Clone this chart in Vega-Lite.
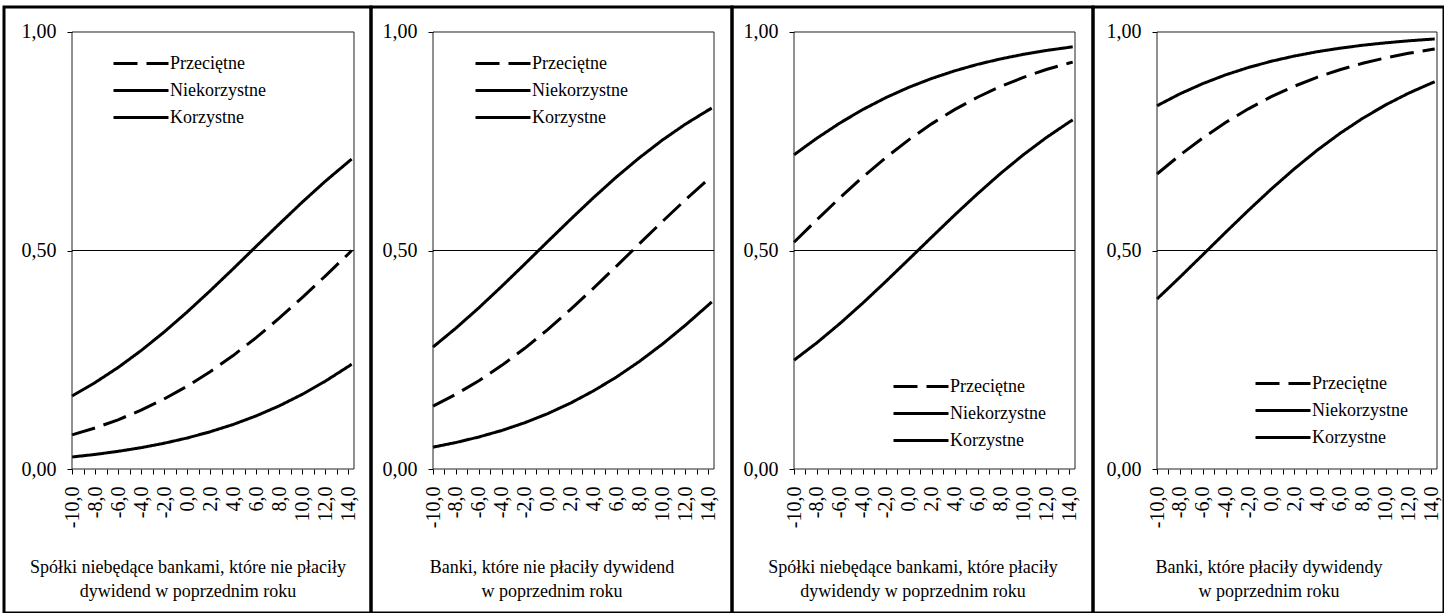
{
"$schema": "https://vega.github.io/schema/vega-lite/v6.json",
"background": "white",
"padding": {"left": 2, "top": 5, "right": 2, "bottom": 2},
"spacing": 0,
"bounds": "flush",
"datasets": {
"curves": [
{"panel":1,"seria":"Niekorzystne","x":-10,"p":0.167},{"panel":1,"seria":"Niekorzystne","x":-8,"p":0.1977},{"panel":1,"seria":"Niekorzystne","x":-6,"p":0.2322},{"panel":1,"seria":"Niekorzystne","x":-4,"p":0.2709},{"panel":1,"seria":"Niekorzystne","x":-2,"p":0.3133},{"panel":1,"seria":"Niekorzystne","x":0,"p":0.3592},{"panel":1,"seria":"Niekorzystne","x":2,"p":0.4078},{"panel":1,"seria":"Niekorzystne","x":4,"p":0.4581},{"panel":1,"seria":"Niekorzystne","x":6,"p":0.5095},{"panel":1,"seria":"Niekorzystne","x":8,"p":0.5605},{"panel":1,"seria":"Niekorzystne","x":10,"p":0.6105},{"panel":1,"seria":"Niekorzystne","x":12,"p":0.6583},{"panel":1,"seria":"Niekorzystne","x":14,"p":0.7027},{"panel":1,"seria":"Niekorzystne","x":14.3,"p":0.7092},
{"panel":1,"seria":"Przeciętne","x":-10,"p":0.078},{"panel":1,"seria":"Przeciętne","x":-8,"p":0.0939},{"panel":1,"seria":"Przeciętne","x":-6,"p":0.1126},{"panel":1,"seria":"Przeciętne","x":-4,"p":0.1347},{"panel":1,"seria":"Przeciętne","x":-2,"p":0.1601},{"panel":1,"seria":"Przeciętne","x":0,"p":0.1894},{"panel":1,"seria":"Przeciętne","x":2,"p":0.2225},{"panel":1,"seria":"Przeciętne","x":4,"p":0.2596},{"panel":1,"seria":"Przeciętne","x":6,"p":0.3007},{"panel":1,"seria":"Przeciętne","x":8,"p":0.345},{"panel":1,"seria":"Przeciętne","x":10,"p":0.3922},{"panel":1,"seria":"Przeciętne","x":12,"p":0.4415},{"panel":1,"seria":"Przeciętne","x":14,"p":0.492},{"panel":1,"seria":"Przeciętne","x":14.3,"p":0.5},
{"panel":1,"seria":"Korzystne","x":-10,"p":0.0275},{"panel":1,"seria":"Korzystne","x":-8,"p":0.0333},{"panel":1,"seria":"Korzystne","x":-6,"p":0.0404},{"panel":1,"seria":"Korzystne","x":-4,"p":0.0488},{"panel":1,"seria":"Korzystne","x":-2,"p":0.0589},{"panel":1,"seria":"Korzystne","x":0,"p":0.0709},{"panel":1,"seria":"Korzystne","x":2,"p":0.0852},{"panel":1,"seria":"Korzystne","x":4,"p":0.1019},{"panel":1,"seria":"Korzystne","x":6,"p":0.1216},{"panel":1,"seria":"Korzystne","x":8,"p":0.1444},{"panel":1,"seria":"Korzystne","x":10,"p":0.1708},{"panel":1,"seria":"Korzystne","x":12,"p":0.2008},{"panel":1,"seria":"Korzystne","x":14,"p":0.2345},{"panel":1,"seria":"Korzystne","x":14.3,"p":0.2399},
{"panel":2,"seria":"Niekorzystne","x":-10,"p":0.2791},{"panel":2,"seria":"Niekorzystne","x":-8,"p":0.3224},{"panel":2,"seria":"Niekorzystne","x":-6,"p":0.3689},{"panel":2,"seria":"Niekorzystne","x":-4,"p":0.4182},{"panel":2,"seria":"Niekorzystne","x":-2,"p":0.469},{"panel":2,"seria":"Niekorzystne","x":0,"p":0.5205},{"panel":2,"seria":"Niekorzystne","x":2,"p":0.5714},{"panel":2,"seria":"Niekorzystne","x":4,"p":0.6211},{"panel":2,"seria":"Niekorzystne","x":6,"p":0.6684},{"panel":2,"seria":"Niekorzystne","x":8,"p":0.7123},{"panel":2,"seria":"Niekorzystne","x":10,"p":0.7527},{"panel":2,"seria":"Niekorzystne","x":12,"p":0.789},{"panel":2,"seria":"Niekorzystne","x":14,"p":0.8213},{"panel":2,"seria":"Niekorzystne","x":14.3,"p":0.8258},
{"panel":2,"seria":"Przeciętne","x":-10,"p":0.1439},{"panel":2,"seria":"Przeciętne","x":-8,"p":0.1711},{"panel":2,"seria":"Przeciętne","x":-6,"p":0.2021},{"panel":2,"seria":"Przeciętne","x":-4,"p":0.2372},{"panel":2,"seria":"Przeciętne","x":-2,"p":0.2762},{"panel":2,"seria":"Przeciętne","x":0,"p":0.3191},{"panel":2,"seria":"Przeciętne","x":2,"p":0.3652},{"panel":2,"seria":"Przeciętne","x":4,"p":0.4139},{"panel":2,"seria":"Przeciętne","x":6,"p":0.4643},{"panel":2,"seria":"Przeciętne","x":8,"p":0.5155},{"panel":2,"seria":"Przeciętne","x":10,"p":0.5664},{"panel":2,"seria":"Przeciętne","x":12,"p":0.6158},{"panel":2,"seria":"Przeciętne","x":14,"p":0.6631},{"panel":2,"seria":"Przeciętne","x":14.3,"p":0.67},
{"panel":2,"seria":"Korzystne","x":-10,"p":0.05},{"panel":2,"seria":"Korzystne","x":-8,"p":0.0606},{"panel":2,"seria":"Korzystne","x":-6,"p":0.0733},{"panel":2,"seria":"Korzystne","x":-4,"p":0.0882},{"panel":2,"seria":"Korzystne","x":-2,"p":0.1059},{"panel":2,"seria":"Korzystne","x":0,"p":0.1267},{"panel":2,"seria":"Korzystne","x":2,"p":0.151},{"panel":2,"seria":"Korzystne","x":4,"p":0.1789},{"panel":2,"seria":"Korzystne","x":6,"p":0.2105},{"panel":2,"seria":"Korzystne","x":8,"p":0.2462},{"panel":2,"seria":"Korzystne","x":10,"p":0.2858},{"panel":2,"seria":"Korzystne","x":12,"p":0.3289},{"panel":2,"seria":"Korzystne","x":14,"p":0.3752},{"panel":2,"seria":"Korzystne","x":14.3,"p":0.3822},
{"panel":3,"seria":"Niekorzystne","x":-10,"p":0.719},{"panel":3,"seria":"Niekorzystne","x":-8,"p":0.7571},{"panel":3,"seria":"Niekorzystne","x":-6,"p":0.7917},{"panel":3,"seria":"Niekorzystne","x":-4,"p":0.8226},{"panel":3,"seria":"Niekorzystne","x":-2,"p":0.8497},{"panel":3,"seria":"Niekorzystne","x":0,"p":0.8733},{"panel":3,"seria":"Niekorzystne","x":2,"p":0.8936},{"panel":3,"seria":"Niekorzystne","x":4,"p":0.911},{"panel":3,"seria":"Niekorzystne","x":6,"p":0.9259},{"panel":3,"seria":"Niekorzystne","x":8,"p":0.9383},{"panel":3,"seria":"Niekorzystne","x":10,"p":0.9489},{"panel":3,"seria":"Niekorzystne","x":12,"p":0.9577},{"panel":3,"seria":"Niekorzystne","x":14,"p":0.965},{"panel":3,"seria":"Niekorzystne","x":14.3,"p":0.966},
{"panel":3,"seria":"Przeciętne","x":-10,"p":0.519},{"panel":3,"seria":"Przeciętne","x":-8,"p":0.5705},{"panel":3,"seria":"Przeciętne","x":-6,"p":0.6206},{"panel":3,"seria":"Przeciętne","x":-4,"p":0.6682},{"panel":3,"seria":"Przeciętne","x":-2,"p":0.7126},{"panel":3,"seria":"Przeciętne","x":0,"p":0.7532},{"panel":3,"seria":"Przeciętne","x":2,"p":0.7898},{"panel":3,"seria":"Przeciętne","x":4,"p":0.8223},{"panel":3,"seria":"Przeciętne","x":6,"p":0.8507},{"panel":3,"seria":"Przeciętne","x":8,"p":0.8752},{"panel":3,"seria":"Przeciętne","x":10,"p":0.8962},{"panel":3,"seria":"Przeciętne","x":12,"p":0.9141},{"panel":3,"seria":"Przeciętne","x":14,"p":0.929},{"panel":3,"seria":"Przeciętne","x":14.3,"p":0.931},
{"panel":3,"seria":"Korzystne","x":-10,"p":0.249},{"panel":3,"seria":"Korzystne","x":-8,"p":0.289},{"panel":3,"seria":"Korzystne","x":-6,"p":0.3329},{"panel":3,"seria":"Korzystne","x":-4,"p":0.3797},{"panel":3,"seria":"Korzystne","x":-2,"p":0.429},{"panel":3,"seria":"Korzystne","x":0,"p":0.4796},{"panel":3,"seria":"Korzystne","x":2,"p":0.5305},{"panel":3,"seria":"Korzystne","x":4,"p":0.581},{"panel":3,"seria":"Korzystne","x":6,"p":0.6297},{"panel":3,"seria":"Korzystne","x":8,"p":0.6761},{"panel":3,"seria":"Korzystne","x":10,"p":0.7191},{"panel":3,"seria":"Korzystne","x":12,"p":0.7584},{"panel":3,"seria":"Korzystne","x":14,"p":0.794},{"panel":3,"seria":"Korzystne","x":14.3,"p":0.7989},
{"panel":4,"seria":"Niekorzystne","x":-10,"p":0.8312},{"panel":4,"seria":"Niekorzystne","x":-8,"p":0.8584},{"panel":4,"seria":"Niekorzystne","x":-6,"p":0.8818},{"panel":4,"seria":"Niekorzystne","x":-4,"p":0.9019},{"panel":4,"seria":"Niekorzystne","x":-2,"p":0.9188},{"panel":4,"seria":"Niekorzystne","x":0,"p":0.933},{"panel":4,"seria":"Niekorzystne","x":2,"p":0.9449},{"panel":4,"seria":"Niekorzystne","x":4,"p":0.9548},{"panel":4,"seria":"Niekorzystne","x":6,"p":0.9629},{"panel":4,"seria":"Niekorzystne","x":8,"p":0.9697},{"panel":4,"seria":"Niekorzystne","x":10,"p":0.9752},{"panel":4,"seria":"Niekorzystne","x":12,"p":0.9798},{"panel":4,"seria":"Niekorzystne","x":14,"p":0.9835},{"panel":4,"seria":"Niekorzystne","x":14.3,"p":0.984},
{"panel":4,"seria":"Przeciętne","x":-10,"p":0.675},{"panel":4,"seria":"Przeciętne","x":-8,"p":0.7181},{"panel":4,"seria":"Przeciętne","x":-6,"p":0.7573},{"panel":4,"seria":"Przeciętne","x":-4,"p":0.7928},{"panel":4,"seria":"Przeciętne","x":-2,"p":0.8242},{"panel":4,"seria":"Przeciętne","x":0,"p":0.8519},{"panel":4,"seria":"Przeciętne","x":2,"p":0.8757},{"panel":4,"seria":"Przeciętne","x":4,"p":0.8962},{"panel":4,"seria":"Przeciętne","x":6,"p":0.9137},{"panel":4,"seria":"Przeciętne","x":8,"p":0.9284},{"panel":4,"seria":"Przeciętne","x":10,"p":0.9408},{"panel":4,"seria":"Przeciętne","x":12,"p":0.9512},{"panel":4,"seria":"Przeciętne","x":14,"p":0.9599},{"panel":4,"seria":"Przeciętne","x":14.3,"p":0.9611},
{"panel":4,"seria":"Korzystne","x":-10,"p":0.389},{"panel":4,"seria":"Korzystne","x":-8,"p":0.4388},{"panel":4,"seria":"Korzystne","x":-6,"p":0.49},{"panel":4,"seria":"Korzystne","x":-4,"p":0.5414},{"panel":4,"seria":"Korzystne","x":-2,"p":0.5919},{"panel":4,"seria":"Korzystne","x":0,"p":0.6406},{"panel":4,"seria":"Korzystne","x":2,"p":0.6865},{"panel":4,"seria":"Korzystne","x":4,"p":0.7291},{"panel":4,"seria":"Korzystne","x":6,"p":0.7678},{"panel":4,"seria":"Korzystne","x":8,"p":0.8025},{"panel":4,"seria":"Korzystne","x":10,"p":0.8331},{"panel":4,"seria":"Korzystne","x":12,"p":0.8598},{"panel":4,"seria":"Korzystne","x":14,"p":0.8829},{"panel":4,"seria":"Korzystne","x":14.3,"p":0.886}
]
},
"hconcat": [
{
"width": 367, "height": 606,
"layer": [
{"data": {"name": "curves"}, "transform": [{"filter": "datum.panel == 1"}],
 "mark": {"type": "line", "stroke": "black", "strokeWidth": 3, "strokeCap": "butt"},
 "encoding": {
  "x": {"field": "x", "type": "quantitative", "scale": {"domain": [-15.908, 15.977], "nice": false, "zero": false}, "axis": {"orient": "bottom", "offset": -144, "values": [-10,-9,-8,-7,-6,-5,-4,-3,-2,-1,0,1,2,3,4,5,6,7,8,9,10,11,12,13,14], "tickCount": 40, "domain": false, "grid": false, "tickSize": 5, "labelAngle": -90, "labelPadding": 12, "labelFontSize": 20, "labelOverlap": false, "labelFlush": false, "labelExpr": "datum.value % 2 == 0 ? replace(replace(format(datum.value, '.1f'), '.', ','), '\u2212', '-') : ''", "title": ["Spółki niebędące bankami, które nie płaciły", "dywidend w poprzednim roku"], "titleY": 89, "titleBaseline": "top", "titleLineHeight": 24}},
  "y": {"field": "p", "type": "quantitative", "scale": {"domain": [-0.3295, 1.0572], "nice": false, "zero": false}, "axis": {"orient": "left", "offset": -68, "values": [0, 0.5, 1], "domain": false, "grid": false, "tickSize": 5, "labelPadding": 11, "labelFontSize": 20, "labelFlush": false, "labelExpr": "replace(format(datum.value, '.2f'), '.', ',')", "title": null}},
  "strokeDash": {"field": "seria", "type": "nominal", "scale": {"domain": ["Przeciętne", "Niekorzystne", "Korzystne"], "range": [[24, 9], [1, 0], [1, 0]]},
   "legend": {"orient": "none", "legendX": 108, "legendY": 44, "title": null, "symbolType": "stroke", "symbolSize": 3025, "symbolStrokeWidth": 3, "symbolStrokeColor": "black", "labelOffset": 0, "clipHeight": 25, "rowPadding": 2}}
 }},
{"data": {"values": [{}]}, "mark": {"type": "rect", "fill": "transparent", "stroke": "#222", "strokeWidth": 1},
 "encoding": {"x": {"datum": -10, "type": "quantitative"}, "x2": {"datum": 14.5}, "y": {"datum": 0, "type": "quantitative"}, "y2": {"datum": 1}}},
{"data": {"values": [{}]}, "mark": {"type": "rule", "stroke": "black", "strokeWidth": 1},
 "encoding": {"x": {"datum": -10, "type": "quantitative"}, "x2": {"datum": 14.5}, "y": {"datum": 0.5, "type": "quantitative"}}}
]
},
{
"width": 361, "height": 606,
"layer": [
{"data": {"name": "curves"}, "transform": [{"filter": "datum.panel == 2"}],
 "mark": {"type": "line", "stroke": "black", "strokeWidth": 3, "strokeCap": "butt"},
 "encoding": {
  "x": {"field": "x", "type": "quantitative", "scale": {"domain": [-15.406, 16.069], "nice": false, "zero": false}, "axis": {"orient": "bottom", "offset": -144, "values": [-10,-9,-8,-7,-6,-5,-4,-3,-2,-1,0,1,2,3,4,5,6,7,8,9,10,11,12,13,14], "tickCount": 40, "domain": false, "grid": false, "tickSize": 5, "labelAngle": -90, "labelPadding": 12, "labelFontSize": 20, "labelOverlap": false, "labelFlush": false, "labelExpr": "datum.value % 2 == 0 ? replace(replace(format(datum.value, '.1f'), '.', ','), '\u2212', '-') : ''", "title": ["Banki, które nie płaciły dywidend", "w poprzednim roku"], "titleY": 89, "titleBaseline": "top", "titleLineHeight": 24}},
  "y": {"field": "p", "type": "quantitative", "scale": {"domain": [-0.3295, 1.0572], "nice": false, "zero": false}, "axis": {"orient": "left", "offset": -62, "values": [0, 0.5, 1], "domain": false, "grid": false, "tickSize": 5, "labelPadding": 11, "labelFontSize": 20, "labelFlush": false, "labelExpr": "replace(format(datum.value, '.2f'), '.', ',')", "title": null}},
  "strokeDash": {"field": "seria", "type": "nominal", "scale": {"domain": ["Przeciętne", "Niekorzystne", "Korzystne"], "range": [[24, 9], [1, 0], [1, 0]]},
   "legend": {"orient": "none", "legendX": 103, "legendY": 44, "title": null, "symbolType": "stroke", "symbolSize": 3025, "symbolStrokeWidth": 3, "symbolStrokeColor": "black", "labelOffset": 0, "clipHeight": 25, "rowPadding": 2}}
 }},
{"data": {"values": [{}]}, "mark": {"type": "rect", "fill": "transparent", "stroke": "#222", "strokeWidth": 1},
 "encoding": {"x": {"datum": -10, "type": "quantitative"}, "x2": {"datum": 14.5}, "y": {"datum": 0, "type": "quantitative"}, "y2": {"datum": 1}}},
{"data": {"values": [{}]}, "mark": {"type": "rule", "stroke": "black", "strokeWidth": 1},
 "encoding": {"x": {"datum": -10, "type": "quantitative"}, "x2": {"datum": 14.5}, "y": {"datum": 0.5, "type": "quantitative"}}}
]
},
{
"width": 361, "height": 606,
"layer": [
{"data": {"name": "curves"}, "transform": [{"filter": "datum.panel == 3"}],
 "mark": {"type": "line", "stroke": "black", "strokeWidth": 3, "strokeCap": "butt"},
 "encoding": {
  "x": {"field": "x", "type": "quantitative", "scale": {"domain": [-15.406, 16.069], "nice": false, "zero": false}, "axis": {"orient": "bottom", "offset": -144, "values": [-10,-9,-8,-7,-6,-5,-4,-3,-2,-1,0,1,2,3,4,5,6,7,8,9,10,11,12,13,14], "tickCount": 40, "domain": false, "grid": false, "tickSize": 5, "labelAngle": -90, "labelPadding": 12, "labelFontSize": 20, "labelOverlap": false, "labelFlush": false, "labelExpr": "datum.value % 2 == 0 ? replace(replace(format(datum.value, '.1f'), '.', ','), '\u2212', '-') : ''", "title": ["Spółki niebędące bankami, które płaciły", "dywidendy w poprzednim roku"], "titleY": 89, "titleBaseline": "top", "titleLineHeight": 24}},
  "y": {"field": "p", "type": "quantitative", "scale": {"domain": [-0.3295, 1.0572], "nice": false, "zero": false}, "axis": {"orient": "left", "offset": -62, "values": [0, 0.5, 1], "domain": false, "grid": false, "tickSize": 5, "labelPadding": 11, "labelFontSize": 20, "labelFlush": false, "labelExpr": "replace(format(datum.value, '.2f'), '.', ',')", "title": null}},
  "strokeDash": {"field": "seria", "type": "nominal", "scale": {"domain": ["Przeciętne", "Niekorzystne", "Korzystne"], "range": [[24, 9], [1, 0], [1, 0]]},
   "legend": {"orient": "none", "legendX": 160, "legendY": 367, "title": null, "symbolType": "stroke", "symbolSize": 3025, "symbolStrokeWidth": 3, "symbolStrokeColor": "black", "labelOffset": 0, "clipHeight": 25, "rowPadding": 2}}
 }},
{"data": {"values": [{}]}, "mark": {"type": "rect", "fill": "transparent", "stroke": "#222", "strokeWidth": 1},
 "encoding": {"x": {"datum": -10, "type": "quantitative"}, "x2": {"datum": 14.5}, "y": {"datum": 0, "type": "quantitative"}, "y2": {"datum": 1}}},
{"data": {"values": [{}]}, "mark": {"type": "rule", "stroke": "black", "strokeWidth": 1},
 "encoding": {"x": {"datum": -10, "type": "quantitative"}, "x2": {"datum": 14.5}, "y": {"datum": 0.5, "type": "quantitative"}}}
]
},
{
"width": 351, "height": 606,
"layer": [
{"data": {"name": "curves"}, "transform": [{"filter": "datum.panel == 4"}],
 "mark": {"type": "line", "stroke": "black", "strokeWidth": 3, "strokeCap": "butt"},
 "encoding": {
  "x": {"field": "x", "type": "quantitative", "scale": {"domain": [-15.6, 15.1125], "nice": false, "zero": false}, "axis": {"orient": "bottom", "offset": -144, "values": [-10,-9,-8,-7,-6,-5,-4,-3,-2,-1,0,1,2,3,4,5,6,7,8,9,10,11,12,13,14], "tickCount": 40, "domain": false, "grid": false, "tickSize": 5, "labelAngle": -90, "labelPadding": 12, "labelFontSize": 20, "labelOverlap": false, "labelFlush": false, "labelExpr": "datum.value % 2 == 0 ? replace(replace(format(datum.value, '.1f'), '.', ','), '\u2212', '-') : ''", "title": ["Banki, które płaciły dywidendy", "w poprzednim roku"], "titleY": 89, "titleBaseline": "top", "titleLineHeight": 24}},
  "y": {"field": "p", "type": "quantitative", "scale": {"domain": [-0.3295, 1.0572], "nice": false, "zero": false}, "axis": {"orient": "left", "offset": -64, "values": [0, 0.5, 1], "domain": false, "grid": false, "tickSize": 5, "labelPadding": 11, "labelFontSize": 20, "labelFlush": false, "labelExpr": "replace(format(datum.value, '.2f'), '.', ',')", "title": null}},
  "strokeDash": {"field": "seria", "type": "nominal", "scale": {"domain": ["Przeciętne", "Niekorzystne", "Korzystne"], "range": [[24, 9], [1, 0], [1, 0]]},
   "legend": {"orient": "none", "legendX": 161, "legendY": 364, "title": null, "symbolType": "stroke", "symbolSize": 3025, "symbolStrokeWidth": 3, "symbolStrokeColor": "black", "labelOffset": 0, "clipHeight": 25, "rowPadding": 2}}
 }},
{"data": {"values": [{}]}, "mark": {"type": "rect", "fill": "transparent", "stroke": "#222", "strokeWidth": 1},
 "encoding": {"x": {"datum": -10, "type": "quantitative"}, "x2": {"datum": 14.5}, "y": {"datum": 0, "type": "quantitative"}, "y2": {"datum": 1}}},
{"data": {"values": [{}]}, "mark": {"type": "rule", "stroke": "black", "strokeWidth": 1},
 "encoding": {"x": {"datum": -10, "type": "quantitative"}, "x2": {"datum": 14.5}, "y": {"datum": 0.5, "type": "quantitative"}}}
]
}
],
"resolve": {"scale": {"x": "independent", "y": "independent", "strokeDash": "independent"}, "axis": {"x": "independent", "y": "independent"}, "legend": {"strokeDash": "independent"}},
"config": {
 "view": {"stroke": "black", "strokeWidth": 3},
 "font": "Liberation Serif",
 "axis": {"labelFont": "Liberation Serif", "titleFont": "Liberation Serif", "labelColor": "black", "titleColor": "black", "tickColor": "black", "tickWidth": 1, "titleFontWeight": "normal", "labelFontSize": 18, "titleFontSize": 18, "labelOverlap": false},
 "legend": {"labelFont": "Liberation Serif", "labelColor": "black", "labelFontSize": 18, "padding": 0}
}
}
